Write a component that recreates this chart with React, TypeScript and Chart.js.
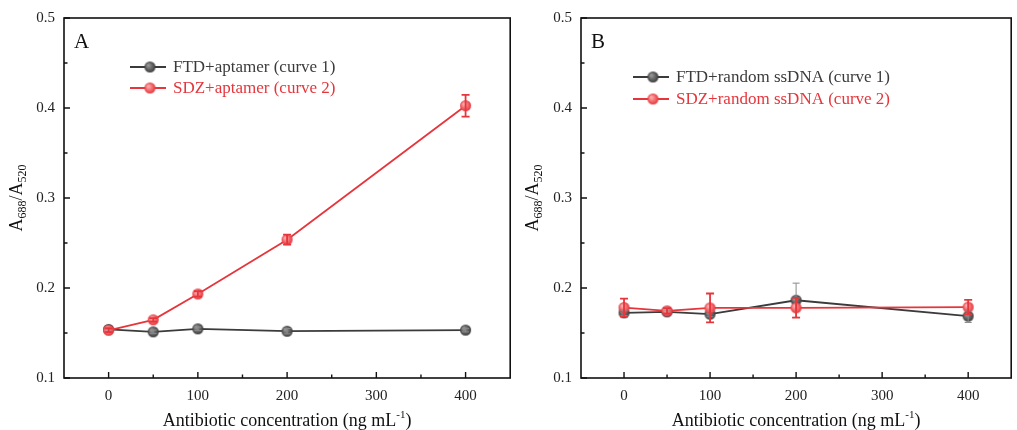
import React, { useEffect, useRef } from "react";
import { Chart, registerables } from "chart.js";

Chart.register(...registerables);

// ---------- data ----------
const concentrations = [0, 50, 100, 200, 400];
const xTickValues = [0, 100, 200, 300, 400];
const xMinorTicks = [50, 150, 250, 350];
const yTickValues = [0.1, 0.2, 0.3, 0.4, 0.5];
const yMinorTicks = [0.15, 0.25, 0.35, 0.45];

const ftdAptamer = [0.154, 0.1513, 0.1546, 0.152, 0.1532];
const ftdAptamerErr = [0.002, 0.002, 0.002, 0.003, 0.002];
const sdzAptamer = [0.153, 0.1646, 0.1934, 0.2537, 0.4025];
const sdzAptamerErr = [0.002, 0.002, 0.003, 0.0055, 0.012];

const ftdRandom = [0.1724, 0.1735, 0.171, 0.1864, 0.1687];
const ftdRandomErr = [0.003, 0.002, 0.003, 0.019, 0.007];
const sdzRandom = [0.1783, 0.1746, 0.1779, 0.178, 0.1787];
const sdzRandomErr = [0.01, 0.003, 0.016, 0.011, 0.008];

const labelsA = ["FTD+aptamer (curve 1)", "SDZ+aptamer (curve 2)"];
const labelsB = ["FTD+random ssDNA (curve 1)", "SDZ+random ssDNA (curve 2)"];

const RED = "#E6353B";
const DARK = "#3B3B3B";
const FONT = "'Liberation Serif', 'Times New Roman', serif";

function ball(color: string, light: string, r: number) {
  const s = Math.ceil(r * 2 + 2);
  const c = document.createElement("canvas");
  c.width = s;
  c.height = s;
  const ctx = c.getContext("2d")!;
  const g = ctx.createRadialGradient(s / 2 - r * 0.35, s / 2 - r * 0.35, r * 0.1, s / 2, s / 2, r);
  g.addColorStop(0, light);
  g.addColorStop(1, color);
  ctx.fillStyle = g;
  ctx.beginPath();
  ctx.arc(s / 2, s / 2, r, 0, Math.PI * 2);
  ctx.fill();
  return c;
}

const errorBarPlugin = {
  id: "errorBars",
  afterDatasetsDraw(chart: any) {
    const ctx = chart.ctx;
    const ys = chart.scales.y;
    chart.data.datasets.forEach((ds: any, i: number) => {
      const meta = chart.getDatasetMeta(i);
      ctx.save();
      ctx.strokeStyle = ds.errColor;
      ctx.lineWidth = ds.errWidth;
      ds.data.forEach((p: any, j: number) => {
        const e = ds.errors[j];
        const x = meta.data[j].x;
        const t = ys.getPixelForValue(p.y + e);
        const b = ys.getPixelForValue(p.y - e);
        const cw = ds.capHalf;
        ctx.beginPath();
        ctx.moveTo(x, t);
        ctx.lineTo(x, b);
        ctx.moveTo(x - cw, t);
        ctx.lineTo(x + cw, t);
        ctx.moveTo(x - cw, b);
        ctx.lineTo(x + cw, b);
        ctx.stroke();
      });
      ctx.restore();
    });
  },
};

const framePlugin = {
  id: "frame",
  afterDraw(chart: any, _args: any, opts: any) {
    const ctx = chart.ctx;
    const a = chart.chartArea;
    const xs = chart.scales.x;
    const ys = chart.scales.y;
    ctx.save();
    ctx.strokeStyle = "#111";
    ctx.lineWidth = 1.6;
    ctx.strokeRect(a.left, a.top, a.right - a.left, a.bottom - a.top);
    ctx.lineWidth = 1.4;
    ctx.beginPath();
    xTickValues.forEach((v) => {
      const x = xs.getPixelForValue(v);
      ctx.moveTo(x, a.bottom);
      ctx.lineTo(x, a.bottom - 6);
    });
    xMinorTicks.forEach((v) => {
      const x = xs.getPixelForValue(v);
      ctx.moveTo(x, a.bottom);
      ctx.lineTo(x, a.bottom - 3.5);
    });
    yTickValues.forEach((v) => {
      const y = ys.getPixelForValue(v);
      ctx.moveTo(a.left, y);
      ctx.lineTo(a.left + 6, y);
    });
    yMinorTicks.forEach((v) => {
      const y = ys.getPixelForValue(v);
      ctx.moveTo(a.left, y);
      ctx.lineTo(a.left + 3.5, y);
    });
    ctx.stroke();

    // panel letter
    ctx.fillStyle = "#111";
    ctx.font = `21px ${FONT}`;
    ctx.textBaseline = "alphabetic";
    ctx.textAlign = "left";
    ctx.fillText(opts.letter, a.left + 10, a.top + 30);

    // x title
    const cx = (a.left + a.right) / 2;
    const main1 = "Antibiotic concentration (ng mL";
    const sup = "-1";
    const main2 = ")";
    ctx.font = `18px ${FONT}`;
    const w1 = ctx.measureText(main1).width;
    const w3 = ctx.measureText(main2).width;
    ctx.font = `11px ${FONT}`;
    const w2 = ctx.measureText(sup).width;
    let x0 = cx - (w1 + w2 + w3) / 2;
    const by = 426;
    ctx.font = `18px ${FONT}`;
    ctx.fillText(main1, x0, by);
    x0 += w1;
    ctx.font = `11px ${FONT}`;
    ctx.fillText(sup, x0, by - 8);
    x0 += w2;
    ctx.font = `18px ${FONT}`;
    ctx.fillText(main2, x0, by);

    // y title (rotated)
    const parts: [string, boolean][] = [
      ["A", false],
      ["688", true],
      ["/A", false],
      ["520", true],
    ];
    let total = 0;
    parts.forEach(([t, s]) => {
      ctx.font = s ? `12px ${FONT}` : `18px ${FONT}`;
      total += ctx.measureText(t).width;
    });
    ctx.translate(opts.yTitleX, (a.top + a.bottom) / 2);
    ctx.rotate(-Math.PI / 2);
    let px = -total / 2;
    parts.forEach(([t, s]) => {
      ctx.font = s ? `12px ${FONT}` : `18px ${FONT}`;
      ctx.fillText(t, px, s ? 4 : 0);
      px += ctx.measureText(t).width;
    });
    ctx.restore();

    // legend
    ctx.save();
    chart.data.datasets.forEach((ds: any, i: number) => {
      const y = opts.legendY + i * opts.legendGap;
      const lx = opts.legendX;
      ctx.strokeStyle = ds.borderColor;
      ctx.lineWidth = 1.8;
      ctx.beginPath();
      ctx.moveTo(lx, y);
      ctx.lineTo(lx + 36, y);
      ctx.stroke();
      const img = ds.pointStyle;
      ctx.drawImage(img, lx + 20 - img.width / 2, y - img.height / 2);
      ctx.fillStyle = ds.borderColor;
      ctx.font = `17px ${FONT}`;
      ctx.textBaseline = "middle";
      ctx.textAlign = "left";
      ctx.fillText(ds.label, lx + 43, y + 1);
    });
    ctx.restore();
  },
};

function makeConfig(
  labels: string[],
  blackVals: number[],
  blackErr: number[],
  redVals: number[],
  redErr: number[],
  yAxisWidth: number,
  padRight: number,
  frameOpts: any
): any {
  const darkBall = ball(DARK, "#9a9a9a", 5.5);
  const redBall = ball(RED, "#ffb0b0", 5.5);
  return {
    type: "line",
    data: {
      datasets: [
        {
          label: labels[0],
          data: concentrations.map((x, i) => ({ x, y: blackVals[i] })),
          borderColor: DARK,
          backgroundColor: DARK,
          borderWidth: 1.8,
          pointStyle: darkBall,
          errors: blackErr,
          errColor: "#8a8a8a",
          errWidth: 1,
          capHalf: 3.5,
          order: 1,
        },
        {
          label: labels[1],
          data: concentrations.map((x, i) => ({ x, y: redVals[i] })),
          borderColor: RED,
          backgroundColor: RED,
          borderWidth: 1.8,
          pointStyle: redBall,
          errors: redErr,
          errColor: RED,
          errWidth: 1.8,
          capHalf: 4,
          order: 0,
        },
      ],
    },
    options: {
      responsive: false,
      animation: false,
      layout: { padding: { top: 17, right: padRight, left: 0, bottom: 0 } },
      plugins: {
        legend: { display: false },
        tooltip: { enabled: false },
        frame: frameOpts,
      },
      scales: {
        x: {
          type: "linear",
          min: -50,
          max: 450,
          grid: { display: false, drawTicks: false },
          border: { display: false },
          afterBuildTicks: (s: any) => {
            s.ticks = xTickValues.map((v) => ({ value: v }));
          },
          afterFit: (s: any) => {
            s.height = 52;
          },
          ticks: {
            padding: 9,
            color: "#222",
            font: { family: FONT, size: 15 },
            maxRotation: 0,
            callback: (v: any) => String(v),
          },
        },
        y: {
          type: "linear",
          min: 0.1,
          max: 0.5,
          grid: { display: false, drawTicks: false },
          border: { display: false },
          afterBuildTicks: (s: any) => {
            s.ticks = yTickValues.map((v) => ({ value: v }));
          },
          afterFit: (s: any) => {
            s.width = yAxisWidth;
          },
          ticks: {
            padding: 9,
            color: "#222",
            font: { family: FONT, size: 15 },
            callback: (v: any) => Number(v).toFixed(1),
          },
        },
      },
    },
    plugins: [errorBarPlugin, framePlugin],
  };
}

function Panel(props: { left: number; width: number; build: () => any }) {
  const ref = useRef<HTMLCanvasElement | null>(null);
  useEffect(() => {
    if (!ref.current) return;
    const chart = new Chart(ref.current, props.build());
    return () => chart.destroy();
  }, []);
  return (
    <canvas
      ref={ref}
      width={props.width}
      height={430}
      style={{ position: "absolute", left: props.left, top: 0, width: props.width, height: 430 }}
    />
  );
}

export default function App() {
  return (
    <div style={{ position: "fixed", left: 0, top: 0, width: 1017, height: 430, background: "#fff" }}>
      <Panel
        left={0}
        width={516}
        build={() =>
          makeConfig(labelsA, ftdAptamer, ftdAptamerErr, sdzAptamer, sdzAptamerErr, 64, 5, {
            letter: "A",
            yTitleX: 22,
            legendX: 130,
            legendY: 67,
            legendGap: 21,
          })
        }
      />
      <Panel
        left={516}
        width={501}
        build={() =>
          makeConfig(labelsB, ftdRandom, ftdRandomErr, sdzRandom, sdzRandomErr, 65, 5, {
            letter: "B",
            yTitleX: 22,
            legendX: 117,
            legendY: 77,
            legendGap: 22,
          })
        }
      />
    </div>
  );
}
